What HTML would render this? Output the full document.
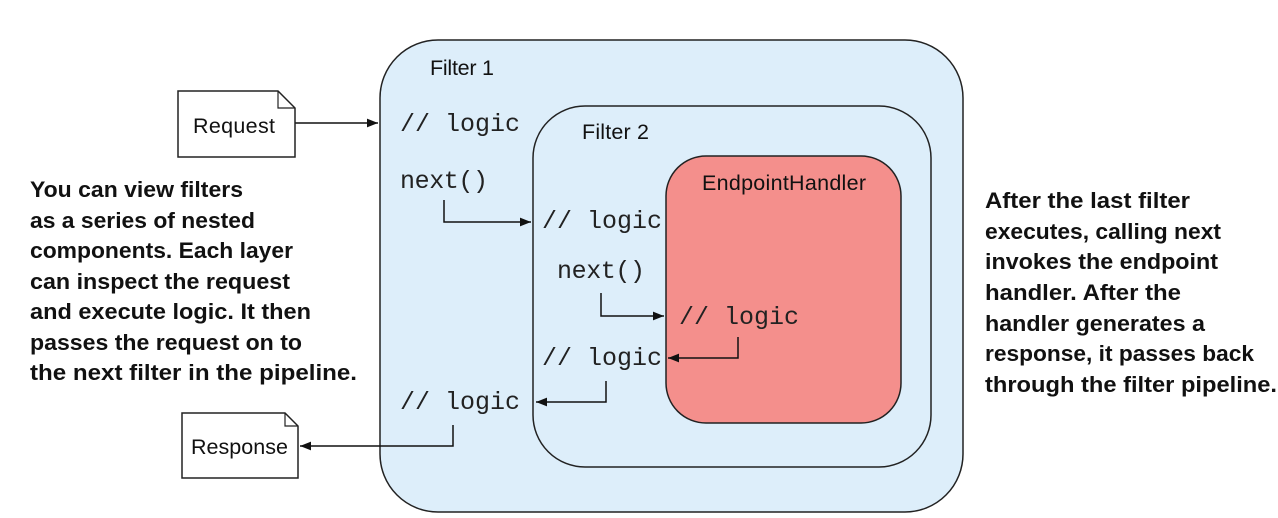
<!DOCTYPE html>
<html><head><meta charset="utf-8"><style>
html,body{margin:0;padding:0;background:#fff;width:1278px;height:518px;overflow:hidden}
svg{display:block}
.m{font-family:"Liberation Mono",monospace;font-size:25px;fill:#222}
.s{font-family:"Liberation Sans",sans-serif;font-size:21.5px;fill:#111}
.b{font-family:"Liberation Sans",sans-serif;font-weight:bold;font-size:22.5px;fill:#111}
</style></head><body>
<svg width="1278" height="518" viewBox="0 0 1278 518">
<defs><marker id="a" viewBox="0 0 10 10" refX="10" refY="5" markerWidth="18" markerHeight="11" markerUnits="userSpaceOnUse" orient="auto"><path d="M0,1 L10,5 L0,9z" fill="#111"/></marker></defs>
<rect x="380" y="40" width="583" height="472" rx="58" fill="#ddeefa" stroke="#222" stroke-width="1.5"/>
<rect x="533" y="106" width="398" height="361" rx="52" fill="#ddeefa" stroke="#222" stroke-width="1.5"/>
<rect x="666" y="156" width="235" height="267" rx="40" fill="#f48f8c" stroke="#222" stroke-width="1.5"/>
<text class="s" x="430" y="75" textLength="64">Filter 1</text>
<text class="s" x="582" y="139" textLength="67">Filter 2</text>
<text class="s" x="702" y="190" textLength="164">EndpointHandler</text>
<text class="m" x="400" y="131" textLength="120">// logic</text>
<text class="m" x="400" y="188" textLength="88">next()</text>
<text class="m" x="542" y="228" textLength="120">// logic</text>
<text class="m" x="557" y="278" textLength="88">next()</text>
<text class="m" x="679" y="324" textLength="120">// logic</text>
<text class="m" x="542" y="365" textLength="120">// logic</text>
<text class="m" x="400" y="409" textLength="120">// logic</text>
<g fill="none" stroke="#111" stroke-width="1.5">
<path d="M295,123 H378" marker-end="url(#a)"/>
<path d="M444,200 V222 H531" marker-end="url(#a)"/>
<path d="M601,293 V316 H664" marker-end="url(#a)"/>
<path d="M738,337 V358 H668" marker-end="url(#a)"/>
<path d="M606,381 V402 H536" marker-end="url(#a)"/>
<path d="M453,425 V446 H300" marker-end="url(#a)"/>
</g>
<path d="M178,91 H278 L295,108 V157 H178Z" fill="#fff" stroke="#222" stroke-width="1.5"/>
<path d="M278,91 V108 H295" fill="none" stroke="#222" stroke-width="1.2"/>
<text class="s" x="193" y="133" textLength="82">Request</text>
<path d="M182,413 H285 L298,426 V478 H182Z" fill="#fff" stroke="#222" stroke-width="1.5"/>
<path d="M285,413 V426 H298" fill="none" stroke="#222" stroke-width="1.2"/>
<text class="s" x="191" y="454" textLength="97">Response</text>
<g class="b" lengthAdjust="spacingAndGlyphs">
<text x="30" y="197" textLength="213" lengthAdjust="spacingAndGlyphs">You can view filters</text>
<text x="30" y="228" textLength="225" lengthAdjust="spacingAndGlyphs">as a series of nested</text>
<text x="30" y="258" textLength="263" lengthAdjust="spacingAndGlyphs">components. Each layer</text>
<text x="30" y="289" textLength="260" lengthAdjust="spacingAndGlyphs">can inspect the request</text>
<text x="30" y="319" textLength="281" lengthAdjust="spacingAndGlyphs">and execute logic. It then</text>
<text x="30" y="350" textLength="272" lengthAdjust="spacingAndGlyphs">passes the request on to</text>
<text x="30" y="380" textLength="327" lengthAdjust="spacingAndGlyphs">the next filter in the pipeline.</text>
<text x="985" y="208" textLength="205" lengthAdjust="spacingAndGlyphs">After the last filter</text>
<text x="985" y="239" textLength="236" lengthAdjust="spacingAndGlyphs">executes, calling next</text>
<text x="985" y="269" textLength="233" lengthAdjust="spacingAndGlyphs">invokes the endpoint</text>
<text x="985" y="300" textLength="196" lengthAdjust="spacingAndGlyphs">handler. After the</text>
<text x="985" y="331" textLength="220" lengthAdjust="spacingAndGlyphs">handler generates a</text>
<text x="985" y="361" textLength="269" lengthAdjust="spacingAndGlyphs">response, it passes back</text>
<text x="985" y="392" textLength="292" lengthAdjust="spacingAndGlyphs">through the filter pipeline.</text>
</g>
</svg>
</body></html>
